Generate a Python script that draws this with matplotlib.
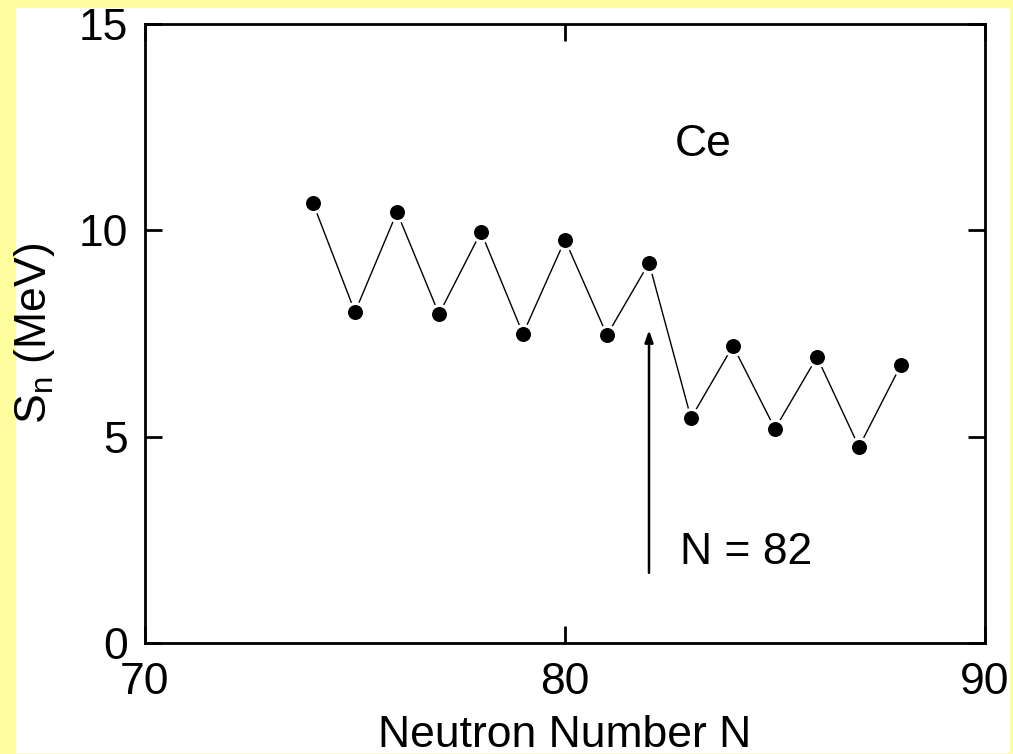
import matplotlib
matplotlib.use("Agg")
import matplotlib.pyplot as plt
from matplotlib.patches import Rectangle

plt.rcParams["font.family"] = ["Liberation Sans", "DejaVu Sans"]
plt.rcParams["mathtext.fontset"] = "custom"
plt.rcParams["mathtext.rm"] = "Liberation Sans"

# neutron separation energies for Ce isotopes
neutron_n = [74, 75, 76, 77, 78, 79, 80, 81, 82, 83, 84, 85, 86, 87, 88]
sn_mev = [10.66, 8.02, 10.44, 7.97, 9.96, 7.49, 9.77, 7.46, 9.21,
          5.45, 7.20, 5.19, 6.93, 4.75, 6.74]

x_ticks = [70, 80, 90]
y_ticks = [0, 5, 10, 15]

fig = plt.figure(figsize=(10.13, 7.54), dpi=100, facecolor="#FFFFA0")
# white sheet on the yellow page
fig.patches.append(Rectangle((16 / 1013, 1 / 754), (1010 - 16) / 1013, (754 - 9) / 754,
                             transform=fig.transFigure, facecolor="white",
                             edgecolor="none", zorder=-5))
ax = fig.add_axes([145 / 1013, 1 - 643 / 754, 840 / 1013, 619 / 754])

ax.plot(neutron_n, sn_mev, color="black", lw=1.0, marker="o", ms=13,
        mfc="black", mec="white", mew=2.2)

ax.annotate("", xy=(82, 7.58), xytext=(82, 1.70),
            arrowprops=dict(arrowstyle="-|>,head_length=0.7,head_width=0.25",
                            lw=1.8, color="black", shrinkA=0, shrinkB=0))
ax.text(82.75, 2.2, "N = 82", fontsize=32, ha="left", va="center")
ax.text(83.3, 12.07, "Ce", fontsize=32, ha="center", va="center")

ax.set_xlim(70, 90)
ax.set_ylim(0, 15)
ax.set_xticks(x_ticks)
ax.set_yticks(y_ticks)
ax.tick_params(direction="in", length=12, width=2, labelsize=32,
               top=True, right=True)
ax.tick_params(axis="x", pad=14)
ax.tick_params(axis="y", pad=12)
for s in ax.spines.values():
    s.set_linewidth(2)

ax.set_xlabel("Neutron Number N", fontsize=32, labelpad=8)
ax.set_ylabel(r"S$_\mathregular{n}$ (MeV)", fontsize=32, labelpad=16)

fig.savefig("out.png", dpi=100, facecolor=fig.get_facecolor())
